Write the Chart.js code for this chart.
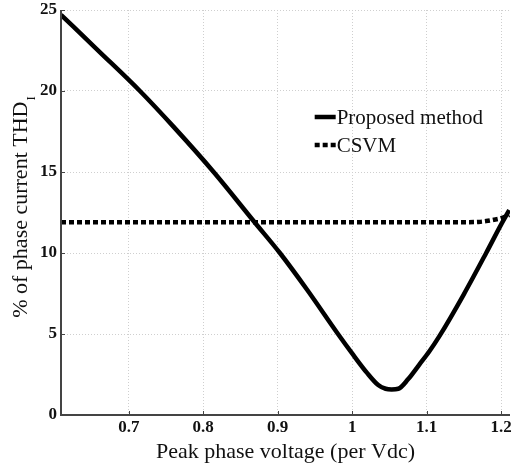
<!DOCTYPE html>
<html>
<head>
<meta charset="utf-8">
<title>THD vs peak phase voltage</title>
<script src="https://cdn.jsdelivr.net/npm/chart.js@4.4.0/dist/chart.umd.min.js"></script>
<style>
  html, body { margin: 0; padding: 0; background: #fff; }
  canvas { display: block; }
</style>
</head>
<body>
<canvas id="thdChart" width="512" height="469"></canvas>
<script>
// values
var seriesNames = ['Proposed method', 'CSVM'];

var proposedX = [0.609, 0.66, 0.715, 0.76, 0.814, 0.869, 0.903, 0.94, 0.981, 1.00, 1.02, 1.035, 1.045, 1.053, 1.062, 1.075, 1.09, 1.104, 1.117, 1.15, 1.18, 1.20, 1.211];
var proposedY = [24.7, 22.45, 20.0, 17.8, 15.0, 11.9, 10.0, 7.7, 5.0, 3.8, 2.6, 1.85, 1.62, 1.58, 1.62, 2.2, 3.1, 3.95, 4.85, 7.45, 10.0, 11.75, 12.65];

var csvmX = [0.609, 0.7, 0.8, 0.9, 1.0, 1.1, 1.15, 1.17, 1.18, 1.19, 1.20, 1.211];
var csvmY = [11.9, 11.9, 11.9, 11.9, 11.9, 11.9, 11.9, 11.92, 11.97, 12.05, 12.15, 12.35];

var xTicks = [0.7, 0.8, 0.9, 1, 1.1, 1.2];
var yTicks = [0, 5, 10, 15, 20, 25];

var xTitle = 'Peak phase voltage (per Vdc)';
var yTitle = '% of phase current THD';
var yTitleSub = 'I';

var serif = "'Liberation Serif', 'Times New Roman', serif";

function toPoints(xs, ys) {
  var pts = [];
  for (var i = 0; i < xs.length; i++) {
    pts.push({ x: xs[i], y: ys[i] });
  }
  return pts;
}

// axes lines, inward ticks, y title with subscript, legend
var extras = {
  id: 'extras',
  afterDraw: function(chart) {
    var ctx = chart.ctx;
    var a = chart.chartArea;
    var xs = chart.scales.x, ys = chart.scales.y;
    ctx.save();

    ctx.strokeStyle = '#444';
    ctx.lineWidth = 1;
    ctx.beginPath();
    xs.ticks.forEach(function(t) {
      var px = Math.round(xs.getPixelForValue(t.value)) + 0.5;
      ctx.moveTo(px, a.bottom);
      ctx.lineTo(px, a.bottom - 4);
    });
    ys.ticks.forEach(function(t) {
      var py = Math.round(ys.getPixelForValue(t.value)) + 0.5;
      ctx.moveTo(a.left, py);
      ctx.lineTo(a.left + 4, py);
    });
    ctx.stroke();

    ctx.lineWidth = 2;
    ctx.beginPath();
    ctx.moveTo(a.left, a.top);
    ctx.lineTo(a.left, a.bottom);
    ctx.lineTo(a.right, a.bottom);
    ctx.stroke();

    // y axis title
    ctx.fillStyle = '#111';
    ctx.textBaseline = 'alphabetic';
    ctx.font = '22px ' + serif;
    var mainW = ctx.measureText(yTitle).width;
    ctx.font = '13px ' + serif;
    var subW = ctx.measureText(yTitleSub).width;
    var total = mainW + subW + 1;
    ctx.translate(27, 207);
    ctx.rotate(-Math.PI / 2);
    ctx.textAlign = 'left';
    ctx.font = '22px ' + serif;
    ctx.fillText(yTitle, -total / 2, 0);
    ctx.font = '13px ' + serif;
    ctx.fillText(yTitleSub, -total / 2 + mainW + 1, 8);
    ctx.setTransform(1, 0, 0, 1, 0, 0);

    // legend
    var lx = a.left + (a.right - a.left) * 0.565;
    var rows = [a.top + 107, a.top + 135];
    chart.data.datasets.forEach(function(ds, i) {
      var y = rows[i];
      ctx.strokeStyle = ds.borderColor;
      ctx.lineWidth = ds.borderWidth;
      ctx.lineCap = 'butt';
      ctx.setLineDash(ds.borderDash || []);
      ctx.beginPath();
      ctx.moveTo(lx, y);
      ctx.lineTo(lx + 21, y);
      ctx.stroke();
      ctx.setLineDash([]);
      ctx.fillStyle = '#111';
      ctx.font = '21px ' + serif;
      ctx.textAlign = 'left';
      ctx.textBaseline = 'middle';
      ctx.fillText(ds.label, lx + 22, y + 1);
    });

    ctx.restore();
  }
};

var ctx = document.getElementById('thdChart');

var thdChart = new Chart(ctx, {
  type: 'line',
  data: {
    datasets: [
      {
        label: seriesNames[0],
        data: toPoints(proposedX, proposedY),
        borderColor: '#000',
        borderWidth: 4.5,
        borderJoinStyle: 'round',
        pointRadius: 0,
        cubicInterpolationMode: 'monotone',
        fill: false
      },
      {
        label: seriesNames[1],
        data: toPoints(csvmX, csvmY),
        borderColor: '#000',
        borderWidth: 4.5,
        borderDash: [5, 3],
        borderCapStyle: 'butt',
        pointRadius: 0,
        cubicInterpolationMode: 'monotone',
        fill: false
      }
    ]
  },
  options: {
    responsive: false,
    animation: false,
    layout: { padding: { top: 10, right: 2, left: 0, bottom: 0 } },
    plugins: {
      legend: { display: false },
      tooltip: { enabled: false }
    },
    scales: {
      x: {
        type: 'linear',
        min: 0.609,
        max: 1.212,
        afterBuildTicks: function(s) {
          s.ticks = xTicks.map(function(v) { return { value: v }; });
        },
        afterFit: function(s) {
          s.height = 54;
          s.paddingLeft = 0;
          s.paddingRight = 0;
        },
        ticks: {
          color: '#111',
          padding: 2,
          maxRotation: 0,
          autoSkip: false,
          font: { family: serif, size: 17, weight: 'bold' },
          callback: function(v) { return String(v); }
        },
        grid: { color: '#cfcfcf', lineWidth: 1, drawTicks: false },
        border: { display: false, dash: [1, 2] },
        title: {
          display: true,
          text: xTitle,
          color: '#111',
          font: { family: serif, size: 22 },
          padding: { top: 0, bottom: 4 }
        }
      },
      y: {
        min: 0,
        max: 25,
        afterBuildTicks: function(s) {
          s.ticks = yTicks.map(function(v) { return { value: v }; });
        },
        afterFit: function(s) {
          s.width = 61;
          s.paddingTop = 0;
          s.paddingBottom = 0;
        },
        ticks: {
          color: '#111',
          padding: 4,
          font: { family: serif, size: 17, weight: 'bold' }
        },
        grid: { color: '#cfcfcf', lineWidth: 1, drawTicks: false },
        border: { display: false, dash: [1, 2] }
      }
    }
  },
  plugins: [extras]
});
</script>
</body>
</html>
